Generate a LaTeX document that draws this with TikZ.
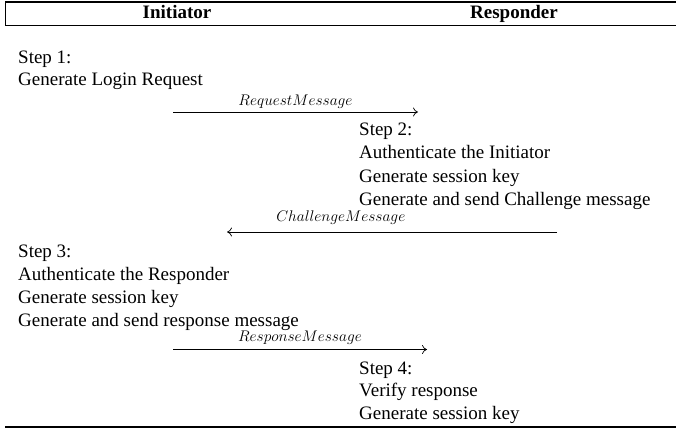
\documentclass[tikz,border=0pt]{standalone}
\usepackage{fontspec}
\usepackage{graphicx}
\setmainfont{Liberation Serif}
\usetikzlibrary{arrows.meta}
\newcommand{\msgname}[1]{\scalebox{1.07}{$#1$}}
\tikzset{
  x=1pt, y=-1pt,
  line/.style={anchor=base west, inner sep=0pt, font=\fontsize{19}{23}\selectfont},
  head/.style={anchor=base, inner sep=0pt, font=\fontsize{19}{23}\selectfont\bfseries},
  msg/.style={draw, line width=0.7pt, -{Computer Modern Rightarrow[length=5pt,width=9pt]}},
  msglabel/.style={above=3pt, inner sep=0pt, font=\fontsize{15}{18}\selectfont},
  rulethick/.style={line width=1.4pt},
  rulethin/.style={line width=0.8pt}
}
\begin{document}
\begin{tikzpicture}
\useasboundingbox (0,0) rectangle (676,430);
% table rules
\draw[rulethick] (5,2) -- (676,2);
\draw[rulethin] (5,25.5) -- (676,25.5);
\draw[rulethin] (5,2) -- (5,25.5);
\draw[rulethick] (5,427) -- (676,427);
% column heads
\node[head] (hI) at (177,19) {Initiator};
\node[head] (hR) at (514,19) {Responder};
% step 1
\node[line] (s1a) at (18,64) {Step 1:};
\node[line] (s1b) at (18,86) {Generate Login Request};
% request message
\coordinate (m1a) at (173,112);
\coordinate (m1b) at (418,112);
\draw[msg] (m1a) -- node[msglabel] (l1) {\msgname{RequestMessage}} (m1b);
% step 2
\node[line] (s2a) at (359,135.5) {Step 2:};
\node[line] (s2b) at (359,158.8) {Authenticate the Initiator};
\node[line] (s2c) at (359,182.1) {Generate session key};
\node[line] (s2d) at (359,205.4) {Generate and send Challenge message};
% challenge message
\coordinate (m2a) at (557,232);
\coordinate (m2b) at (227,232);
\draw[msg] (m2a) -- node[msglabel, above=4pt, pos=0.655] (l2) {\msgname{ChallengeMessage}} (m2b);
% step 3
\node[line] (s3a) at (18,257) {Step 3:};
\node[line] (s3b) at (18,280.3) {Authenticate the Responder};
\node[line] (s3c) at (18,303.6) {Generate session key};
\node[line] (s3d) at (18,326.9) {Generate and send response message};
% response message
\coordinate (m3a) at (173,349.5) ;
\coordinate (m3b) at (427,349.5);
\draw[msg] (m3a) -- node[msglabel, above=1.5pt] (l3) {\msgname{ResponseMessage}} (m3b);
% step 4
\node[line] (s4a) at (359,374) {Step 4:};
\node[line] (s4b) at (359,396.5) {Verify response};
\node[line] (s4c) at (359,419) {Generate session key};
\end{tikzpicture}
\end{document}
